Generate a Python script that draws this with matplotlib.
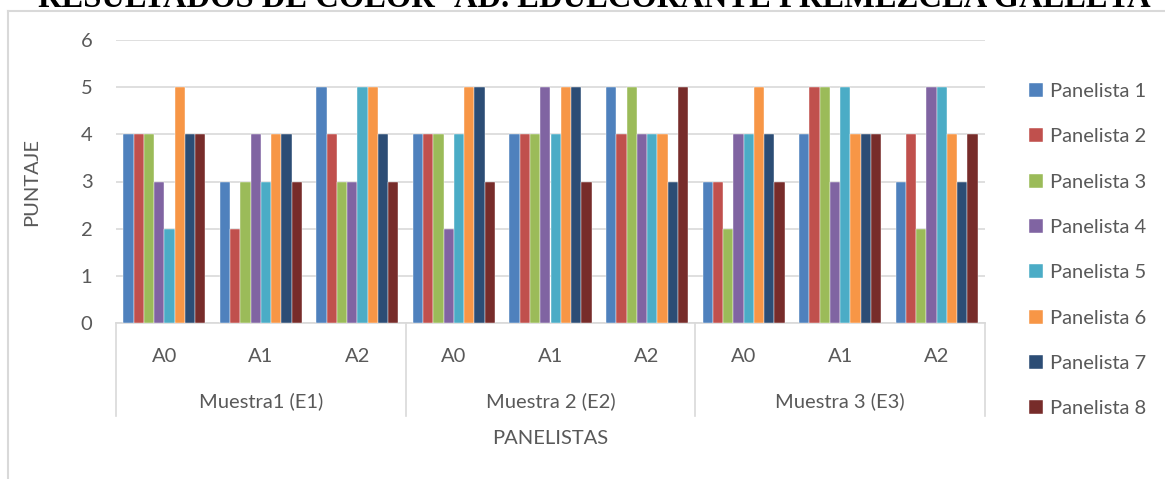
import matplotlib
matplotlib.use("Agg")
import matplotlib.pyplot as plt
from matplotlib.lines import Line2D
import numpy as np

# data
muestras = ["Muestra1 (E1)", "Muestra 2 (E2)", "Muestra 3 (E3)"]
aditivos = ["A0", "A1", "A2"]
panelistas = [f"Panelista {i}" for i in range(1, 9)]
colors = ["#4f81bd", "#c0504d", "#9bbb59", "#8064a2",
          "#4bacc6", "#f79646", "#2c4d75", "#772c2a"]

# scores per (muestra, aditivo) category, one column per panelist
p1 = [4, 3, 5, 4, 4, 5, 3, 4, 3]
p2 = [4, 2, 4, 4, 4, 4, 3, 5, 4]
p3 = [4, 3, 3, 4, 4, 5, 2, 5, 2]
p4 = [3, 4, 3, 2, 5, 4, 4, 3, 5]
p5 = [2, 3, 5, 4, 4, 4, 4, 5, 5]
p6 = [5, 4, 5, 5, 5, 4, 5, 4, 4]
p7 = [4, 4, 4, 5, 5, 3, 4, 4, 3]
p8 = [4, 3, 3, 3, 3, 5, 3, 4, 4]
scores = [p1, p2, p3, p4, p5, p6, p7, p8]

W, H = 1165, 479
fig = plt.figure(figsize=(W / 100, H / 100), dpi=100)
font = ["Lato", "DejaVu Sans"]
fs = 14.5
gray = "#595959"
lgray = "#d9d9d9"

ax = fig.add_axes([116 / W, 1 - 323 / H, (985 - 116) / W, (323 - 40) / H])
n_cat = len(muestras) * len(aditivos)
x = np.arange(n_cat)
bw = 0.85 / len(panelistas)
for i, (vals, c) in enumerate(zip(scores, colors)):
    ax.bar(x + (i - 3.5) * bw, vals, bw, color=c, label=panelistas[i],
           edgecolor="white", linewidth=0.3, zorder=3)

ax.set_xlim(-0.5, n_cat - 0.5)
ax.set_ylim(0, 6)
ax.set_yticks(range(7))
ax.set_yticklabels([str(v) for v in range(7)], family=font, fontsize=fs, color=gray)
ax.tick_params(axis="y", length=0, pad=17)
ax.set_xticks([])
ax.grid(axis="y", color=lgray, linewidth=1.2, zorder=0)
for s in ["left", "right", "top"]:
    ax.spines[s].set_visible(False)
ax.spines["bottom"].set_color(lgray)
ax.spines["bottom"].set_linewidth(1.2)

# two-level category axis below the plot
trans = ax.get_xaxis_transform()
for k in range(len(muestras) + 1):
    xs = k * len(aditivos) - 0.5
    ax.add_line(Line2D([xs, xs], [0, -0.33], transform=trans, color=lgray,
                       linewidth=1.2, clip_on=False))
for j in range(n_cat):
    ax.text(j, -0.117, aditivos[j % 3], transform=trans, ha="center", va="center",
            family=font, fontsize=fs, color=gray)
for k, m in enumerate(muestras):
    ax.text(k * 3 + 1, -0.275, m, transform=trans, ha="center", va="center",
            family=font, fontsize=fs, color=gray)

fig.text(550 / W, 1 - 438 / H, "PANELISTAS", ha="center", va="center",
         family=font, fontsize=fs, color=gray)
fig.text(32 / W, 1 - 182 / H, "PUNTAJE", ha="center", va="center",
         rotation=90, family=font, fontsize=fs, color=gray)

# chart border
fig.add_artist(Line2D([8 / W, 8 / W], [0, 1 - 11 / H], color=lgray, linewidth=1.5))
fig.add_artist(Line2D([8 / W, 1], [1 - 11 / H, 1 - 11 / H], color=lgray, linewidth=1.5))

# title sits partly above the picture, as in the reference
fig.text(594 / W, 1 - 7 / H, "RESULTADOS DE COLOR -AD. EDULCORANTE PREMEZCLA GALLETA",
         ha="center", va="baseline", family="Liberation Serif", fontweight="bold",
         fontsize=23.5, color="black")

leg = fig.legend(loc="upper left", bbox_to_anchor=(1021 / W, 1 - 75 / H),
                 frameon=False, prop={"family": font, "size": fs},
                 handlelength=0.7, handleheight=0.7, handletextpad=0.35,
                 labelspacing=1.4, borderaxespad=0)
for t in leg.get_texts():
    t.set_color(gray)

fig.savefig("out.png", dpi=100)
